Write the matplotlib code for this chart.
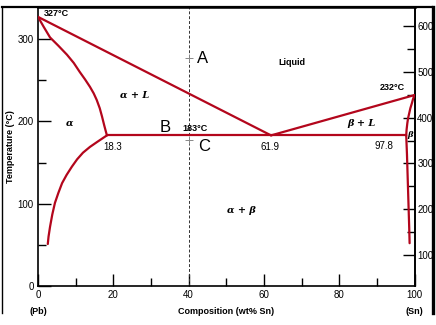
import matplotlib
matplotlib.use("Agg")
import matplotlib.pyplot as plt
from matplotlib.lines import Line2D
from matplotlib.transforms import blended_transform_factory
import numpy as np

plt.rcParams['font.family'] = ['Liberation Sans', 'DejaVu Sans']

# Pb-Sn phase diagram: composition (wt% Sn) vs temperature (degC)
liquidus_left_x = [0.0, 61.9]
liquidus_left_t = [327, 183]
liquidus_right_x = [61.9, 100.0]
liquidus_right_t = [183, 232]

solidus_alpha_x = [0.0, 1.5, 3.2, 5.4, 7.7, 9.5, 11.1, 12.5, 13.8, 14.8, 15.6,
                   16.4, 17.0, 17.6, 18.3]
solidus_alpha_t = [327, 315, 302, 292, 281, 271, 260, 251, 242, 234, 226,
                   216, 206, 195, 183]

solvus_alpha_x = [18.3, 17.0, 15.7, 13.8, 11.95, 10.4, 9.0, 7.6, 6.4, 5.4, 4.5,
                  3.8, 3.2, 2.8, 2.6]
solvus_alpha_t = [183, 179, 175, 169, 162, 154, 145, 135, 125, 113, 101,
                  87, 72, 60, 51]

solidus_beta_x = [100.0, 99.6, 99.3, 98.9, 98.6, 98.3, 98.1, 97.9, 97.8]
solidus_beta_t = [232, 227, 222, 216, 210, 204, 198, 190, 183]

solvus_beta_x = [97.8, 98.0, 98.2, 98.4, 98.6, 98.7]
solvus_beta_t = [183, 160, 130, 100, 70, 52]

eutectic_x = [18.3, 97.8]
eutectic_t = [183, 183]

alloy_x = 40
point_a_t = 277
point_c_t = 178

x_ticks = [0, 20, 40, 60, 80, 100]
y_ticks = [0, 100, 200, 300]
f_ticks = [100, 200, 300, 400, 500, 600]

RED = '#b3061c'

fig = plt.figure(figsize=(4.36, 3.25), dpi=100)
ax = fig.add_axes([38 / 436, 39 / 325, 376.5 / 436, 279 / 325])

ax.set_xlim(0, 100)
ax.set_ylim(0, 339)

curves = [
    (liquidus_left_x, liquidus_left_t),
    (liquidus_right_x, liquidus_right_t),
    (solidus_alpha_x, solidus_alpha_t),
    (solvus_alpha_x, solvus_alpha_t),
    (solidus_beta_x, solidus_beta_t),
    (solvus_beta_x, solvus_beta_t),
    (eutectic_x, eutectic_t),
]
for xs, ts in curves:
    ax.plot(xs, ts, color=RED, lw=1.6, solid_joinstyle='round',
            solid_capstyle='round', zorder=3)

# vertical composition line at 40 wt% Sn
ax.axvline(alloy_x, color='#333333', lw=0.7, ls=(0, (3, 2)), zorder=2)
ax.plot([alloy_x, alloy_x], [point_a_t, point_c_t], ls='none', marker='+',
        ms=6, mew=0.7, color='#888888', zorder=4)

# axes styling
for s in ['left', 'bottom', 'right']:
    ax.spines[s].set_linewidth(1.2)
ax.spines['top'].set_linewidth(1.8)

ax.set_xticks(x_ticks)
ax.set_xticks([10, 30, 50, 70, 90], minor=True)
ax.set_yticks(y_ticks)
ax.set_yticks([50, 150, 250], minor=True)
ax.tick_params(axis='both', which='major', direction='in', length=9, width=1.0,
               labelsize=7, pad=3)
ax.tick_params(axis='both', which='minor', direction='in', length=5.5, width=1.0)

ax.set_xlabel('Composition (wt% Sn)', fontsize=6.5, fontweight='bold', labelpad=5)
ax.set_ylabel('Temperature (\u00b0C)', fontsize=6.5, fontweight='bold', labelpad=2)

# Fahrenheit scale on the right
c2f = lambda c: np.asarray(c) * 9 / 5 + 32
f2c = lambda f: (np.asarray(f) - 32) * 5 / 9
sec = ax.secondary_yaxis('right', functions=(c2f, f2c))
sec.set_yticks(f_ticks)
sec.set_yticks([150, 250, 350, 450, 550], minor=True)
sec.tick_params(which='major', direction='in', length=9, width=1.0, labelsize=7, pad=2)
sec.tick_params(which='minor', direction='in', length=5.5, width=1.0)
sec.spines['right'].set_linewidth(1.2)

# end-member labels under the axis
tr = blended_transform_factory(ax.transData, fig.transFigure)
ax.text(0, 14 / 325, '(Pb)', transform=tr, ha='center', va='center', fontsize=6.5,
        fontweight='bold')
ax.text(100, 14 / 325, '(Sn)', transform=tr, ha='center', va='center', fontsize=6.5,
        fontweight='bold')

# region and point annotations
small = dict(fontsize=6.5, fontweight='bold', ha='center', va='center', zorder=5)
greek = dict(fontsize=7, fontweight='bold', fontstyle='italic', family='DejaVu Serif',
             ha='center', va='center', zorder=5)
ax.text(1.6, 331, '327\u00b0C', fontsize=6.5, fontweight='bold', ha='left', va='center')
ax.text(94, 241, '232\u00b0C', **small)
ax.text(41.6, 191.5, '183\u00b0C', **small)
ax.text(67.4, 271, 'Liquid', **small)
ax.text(19.9, 169, '18.3', fontsize=7, ha='center', va='center')
ax.text(61.5, 169, '61.9', fontsize=7, ha='center', va='center')
ax.text(92.0, 170, '97.8', fontsize=7, ha='center', va='center')
ax.text(25.7, 232, '\u03b1 + L', **greek)
ax.text(8.5, 198, '\u03b1', **greek)
ax.text(86.0, 197, '\u03b2 + L', **greek)
ax.text(98.9, 183, '\u03b2', fontsize=6, fontweight='bold', fontstyle='italic',
        family='DejaVu Serif', ha='center', va='center', zorder=5)
ax.text(54.0, 91.5, '\u03b1 + \u03b2', **greek)
ax.text(42.2, 276, 'A', fontsize=12, ha='left', va='center')
ax.text(33.7, 192, 'B', fontsize=12, ha='center', va='center')
ax.text(44.0, 169, 'C', fontsize=12, ha='center', va='center')

# outer frame
W, H = 436, 325
def fline(x0, y0, x1, y1, lw):
    fig.add_artist(Line2D([x0 / W, x1 / W], [1 - y0 / H, 1 - y1 / H],
                          transform=fig.transFigure, color='black', lw=lw))
fline(2, 7, 432, 7, 1.6)
fline(2, 7, 2, 313, 1.0)
fline(432.5, 7, 432.5, 313, 2.4)

fig.savefig('out.png', dpi=100)
